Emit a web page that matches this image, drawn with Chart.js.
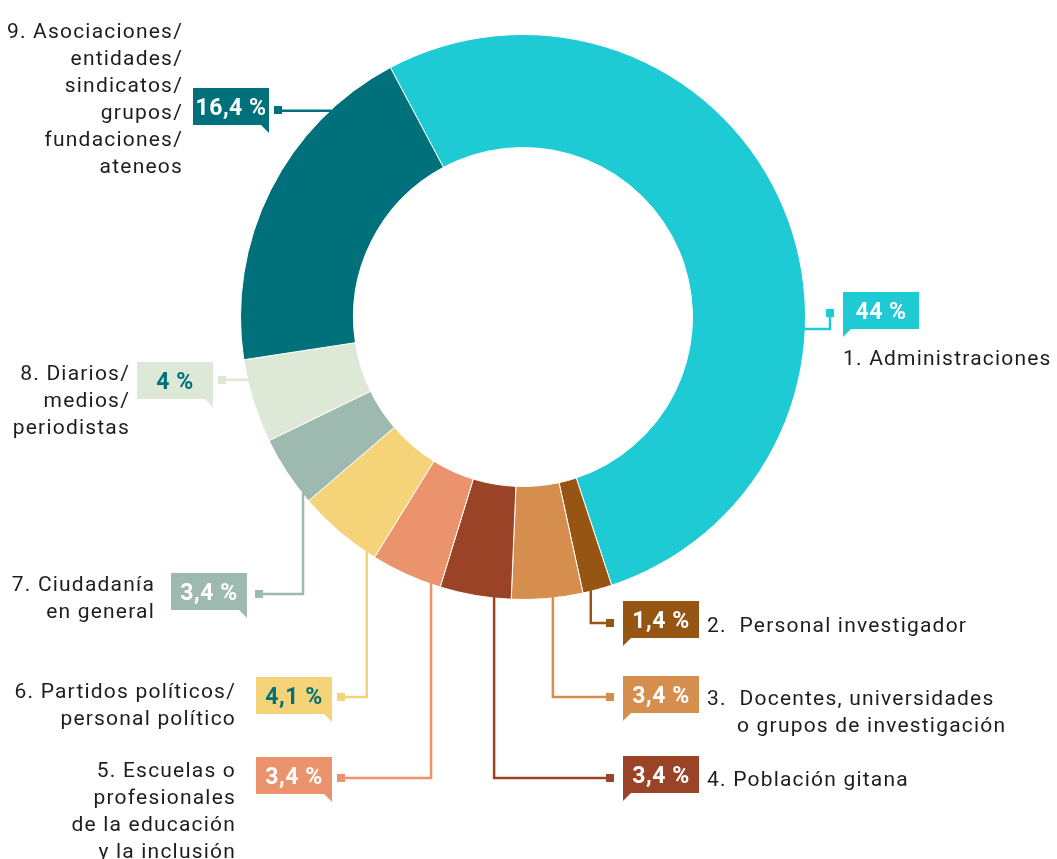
<!DOCTYPE html>
<html lang="es">
<head>
<meta charset="utf-8">
<title>Destinatarios</title>
<script src="https://cdn.jsdelivr.net/npm/chart.js@4.4.1/dist/chart.umd.min.js"></script>
<style>
    html, body {
        margin: 0;
        padding: 0;
        background: #ffffff;
    }

    #wrap {
        position: relative;
        width: 1057px;
        height: 859px;
    }
</style>
</head>
<body>
<div id="wrap">
    <canvas id="donutChart"></canvas>
</div>
<script>
// data
const categories = [
    '1. Administraciones',
    '2. Personal investigador',
    '3. Docentes, universidades o grupos de investigación',
    '4. Población gitana',
    '5. Escuelas o profesionales de la educación y la inclusión',
    '6. Partidos políticos/personal político',
    '7. Ciudadanía en general',
    '8. Diarios/medios/periodistas',
    '9. Asociaciones/entidades/sindicatos/grupos/fundaciones/ateneos'
];

const shares = [44, 1.4, 3.4, 3.4, 3.4, 4.1, 3.4, 4, 16.4];

const labelLines = [
    ['1. Administraciones'],
    ['2.  Personal investigador'],
    ['3.  Docentes, universidades', 'o grupos de investigación'],
    ['4. Población gitana'],
    ['5. Escuelas o', 'profesionales', 'de la educación', 'y la inclusión'],
    ['6. Partidos políticos/', 'personal político'],
    ['7. Ciudadanía', 'en general'],
    ['8. Diarios/', 'medios/', 'periodistas'],
    ['9. Asociaciones/', 'entidades/', 'sindicatos/', 'grupos/', 'fundaciones/', 'ateneos']
];

const colors = [
    '#1ecad4',
    '#975514',
    '#d68e4f',
    '#9a4327',
    '#ea936d',
    '#f5d378',
    '#9db9b0',
    '#dde8d6',
    '#00717a'
];

const valueColors = ['#fff', '#fff', '#fff', '#fff', '#fff', '#00717a', '#fff', '#00717a', '#fff'];

// callout placement: box corner, marker, leader type ('h' meets the ring at a
// given y, 'v' drops from the ring at a given x), label anchor
const callouts = [
    { box: [843, 292], tail: 'left',  marker: [830, 313], leg: 'h', at: 329, text: { x: 843, y: 360, align: 'left', indent: 0 } },
    { box: [623, 601], tail: 'left',  marker: [610, 623], leg: 'v', at: 591, text: { x: 707, y: 627, align: 'left', indent: 0 } },
    { box: [623, 676], tail: 'left',  marker: [610, 697], leg: 'v', at: 553, text: { x: 707, y: 700, align: 'left', indent: 30 } },
    { box: [623, 756], tail: 'left',  marker: [610, 778], leg: 'v', at: 494, text: { x: 707, y: 781, align: 'left', indent: 0 } },
    { box: [256, 757], tail: 'right', marker: [341, 778], leg: 'v', at: 443, text: { x: 236, y: 772, align: 'right' } },
    { box: [256, 677], tail: 'right', marker: [341, 697], leg: 'v', at: 380, text: { x: 236, y: 693, align: 'right' } },
    { box: [171, 573], tail: 'right', marker: [259, 594], leg: 'v', at: 316, text: { x: 155, y: 586, align: 'right' } },
    { box: [137, 362], tail: 'right', marker: [222, 380], leg: 'h', at: 380, text: { x: 130, y: 375, align: 'right' } },
    { box: [193, 88],  tail: 'right', marker: [278, 110], leg: 'h', at: 110, text: { x: 183, y: 33,  align: 'right' } }
];

const BOX_W = 76;
const BOX_H = 37;
const LINE_H = 27;

const fmt = v => String(v).replace('.', ',') + ' %';

// point on the outer edge of an arc, kept inside the slice
function anchorPoint(arc, c) {
    const cx = arc.x, cy = arc.y, r = arc.outerRadius;
    let a;
    if (c.leg === 'h') {
        const s = Math.max(-1, Math.min(1, (c.at - cy) / r));
        a = c.marker[0] < cx ? Math.PI - Math.asin(s) : Math.asin(s);
    } else {
        const s = Math.max(-1, Math.min(1, (c.at - cx) / r));
        a = Math.acos(s);
    }
    const mid = (arc.startAngle + arc.endAngle) / 2;
    const half = (arc.endAngle - arc.startAngle) / 2;
    let d = a - mid;
    while (d > Math.PI) d -= Math.PI * 2;
    while (d < -Math.PI) d += Math.PI * 2;
    const lim = Math.max(0, half - Math.min(0.035, half / 2));
    d = Math.max(-lim, Math.min(lim, d));
    a = mid + d;
    return [cx + (r - 1) * Math.cos(a), cy + (r - 1) * Math.sin(a)];
}

const calloutPlugin = {
    id: 'callouts',
    afterDatasetsDraw(chart) {
        const ctx = chart.ctx;
        const arcs = chart.getDatasetMeta(0).data;

        ctx.save();
        arcs.forEach((arc, i) => {
            const c = callouts[i];
            const col = colors[i];
            const [ax, ay] = anchorPoint(arc, c);
            const [mx, my] = c.marker;

            // leader line
            ctx.strokeStyle = col;
            ctx.lineWidth = 2.5;
            ctx.lineJoin = 'miter';
            ctx.beginPath();
            ctx.moveTo(ax, ay);
            if (c.leg === 'v') {
                ctx.lineTo(ax, my);
            } else {
                ctx.lineTo(mx, ay);
            }
            ctx.lineTo(mx, my);
            ctx.stroke();

            ctx.fillStyle = col;
            ctx.fillRect(mx - 4, my - 4, 8, 8);

            // value box with its little tail
            const [bx, by] = c.box;
            ctx.fillRect(bx, by, BOX_W, BOX_H);
            ctx.beginPath();
            if (c.tail === 'left') {
                ctx.moveTo(bx, by + BOX_H - 1);
                ctx.lineTo(bx, by + BOX_H + 8);
                ctx.lineTo(bx + 9, by + BOX_H - 1);
            } else {
                ctx.moveTo(bx + BOX_W - 9, by + BOX_H - 1);
                ctx.lineTo(bx + BOX_W, by + BOX_H + 8);
                ctx.lineTo(bx + BOX_W, by + BOX_H - 1);
            }
            ctx.closePath();
            ctx.fill();

            ctx.fillStyle = valueColors[i];
            ctx.font = 'bold 23px Roboto';
            ctx.letterSpacing = '0.5px';
            ctx.textAlign = 'center';
            ctx.textBaseline = 'middle';
            ctx.fillText(fmt(shares[i]), bx + BOX_W / 2, by + BOX_H / 2 + 3);

            // category text
            const t = c.text;
            ctx.fillStyle = '#1d1d1b';
            ctx.font = '21px Roboto';
            ctx.letterSpacing = '1.2px';
            ctx.textAlign = t.align;
            labelLines[i].forEach((line, k) => {
                const x = t.align === 'left' && k > 0 ? t.x + t.indent : t.x;
                ctx.fillText(line, x, t.y + k * LINE_H);
            });
        });
        ctx.restore();
    }
};

new Chart(document.getElementById('donutChart'), {
    type: 'doughnut',
    data: {
        labels: categories,
        datasets: [{
            data: shares,
            backgroundColor: colors,
            borderColor: '#ffffff',
            borderWidth: 1,
            hoverOffset: 0
        }]
    },
    options: {
        responsive: true,
        maintainAspectRatio: false,
        animation: false,
        rotation: -28,
        cutout: '60%',
        layout: {
            padding: { left: 240, right: 251, top: 34, bottom: 259 }
        },
        plugins: {
            legend: { display: false },
            tooltip: { enabled: false }
        }
    },
    plugins: [calloutPlugin]
});
</script>
</body>
</html>
